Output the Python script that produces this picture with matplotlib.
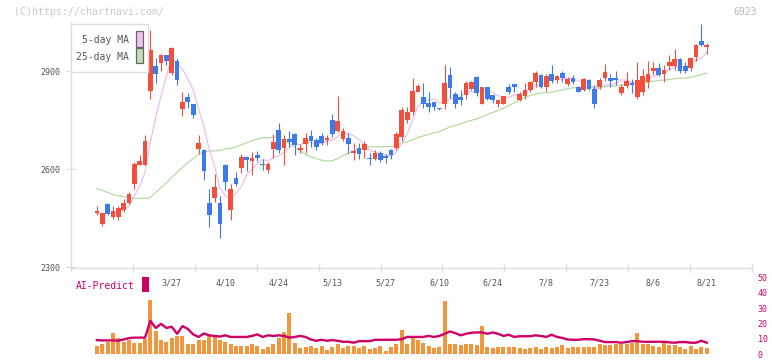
import numpy as np
import pandas as pd
import matplotlib
matplotlib.use("Agg")
from matplotlib import pyplot as plt
from matplotlib.patches import Rectangle

## Daily candles (yen), index 0 = first day on the chart
opens = [2452, 2466, 2433, 2493, 2454, 2454, 2476, 2496, 2554, 2613,
         2613, 2840, 2915, 2925, 2949, 2895, 2931, 2784, 2820, 2798,
         2661, 2658, 2496, 2512, 2496, 2612, 2476, 2572, 2604, 2637,
         2625, 2643, 2615, 2597, 2662, 2719, 2665, 2692, 2707, 2659,
         2677, 2701, 2689, 2701, 2689, 2750, 2717, 2692, 2696, 2648,
         2664, 2657, 2634, 2631, 2649, 2640, 2658, 2665, 2699, 2749,
         2774, 2837, 2819, 2802, 2804, 2786, 2799, 2888, 2829, 2820,
         2826, 2846, 2882, 2800, 2850, 2826, 2800, 2800, 2850, 2859,
         2812, 2824, 2843, 2867, 2888, 2852, 2891, 2873, 2894, 2859,
         2879, 2851, 2843, 2872, 2845, 2851, 2879, 2879, 2879, 2833,
         2854, 2863, 2821, 2837, 2866, 2900, 2909, 2891, 2915, 2915,
         2937, 2915, 2909, 2942, 2992, 2974]
highs = [2452, 2487, 2466, 2496, 2488, 2488, 2507, 2531, 2621, 2643,
         2704, 3025, 2939, 2952, 2950, 2975, 2939, 2837, 2834, 2800,
         2704, 2660, 2538, 2585, 2517, 2614, 2554, 2590, 2646, 2640,
         2652, 2656, 2631, 2621, 2707, 2741, 2704, 2716, 2710, 2677,
         2711, 2719, 2695, 2711, 2705, 2769, 2823, 2725, 2709, 2681,
         2681, 2687, 2649, 2658, 2654, 2646, 2660, 2712, 2791, 2789,
         2878, 2860, 2863, 2835, 2806, 2788, 2918, 2912, 2835, 2842,
         2868, 2869, 2885, 2852, 2852, 2828, 2814, 2824, 2860, 2861,
         2837, 2863, 2870, 2901, 2890, 2891, 2918, 2887, 2901, 2882,
         2888, 2853, 2879, 2874, 2858, 2879, 2921, 2892, 2900, 2860,
         2898, 2876, 2928, 2906, 2931, 2928, 2924, 2918, 2949, 2967,
         2939, 2928, 2943, 2983, 3044, 2986]
lows = [2452, 2459, 2426, 2459, 2447, 2444, 2469, 2493, 2540, 2613,
        2613, 2814, 2864, 2900, 2919, 2887, 2857, 2762, 2786, 2757,
        2645, 2566, 2423, 2500, 2390, 2536, 2444, 2548, 2587, 2594,
        2581, 2625, 2597, 2589, 2633, 2650, 2612, 2668, 2643, 2650,
        2650, 2668, 2658, 2673, 2673, 2699, 2712, 2686, 2650, 2628,
        2632, 2633, 2613, 2628, 2621, 2619, 2632, 2658, 2687, 2740,
        2765, 2835, 2788, 2774, 2780, 2781, 2783, 2818, 2788, 2796,
        2815, 2843, 2822, 2798, 2811, 2803, 2789, 2798, 2831, 2835,
        2809, 2815, 2835, 2851, 2847, 2839, 2862, 2862, 2865, 2855,
        2859, 2835, 2839, 2843, 2788, 2845, 2870, 2851, 2857, 2828,
        2847, 2833, 2815, 2828, 2848, 2888, 2886, 2866, 2903, 2903,
        2894, 2894, 2900, 2931, 2977, 2952]
closes = [2452, 2472, 2466, 2462, 2471, 2480, 2496, 2524, 2615, 2625,
          2687, 2964, 2892, 2949, 2932, 2969, 2872, 2805, 2805, 2765,
          2680, 2595, 2460, 2545, 2433, 2560, 2539, 2555, 2637, 2628,
          2634, 2635, 2611, 2615, 2683, 2658, 2692, 2684, 2673, 2665,
          2695, 2687, 2668, 2679, 2695, 2708, 2747, 2717, 2677, 2656,
          2647, 2677, 2632, 2649, 2627, 2635, 2644, 2707, 2781, 2774,
          2839, 2853, 2800, 2789, 2790, 2783, 2863, 2848, 2799, 2810,
          2863, 2865, 2832, 2850, 2813, 2811, 2812, 2822, 2836, 2852,
          2830, 2842, 2867, 2894, 2852, 2885, 2870, 2885, 2880, 2876,
          2867, 2837, 2876, 2845, 2800, 2872, 2897, 2870, 2872, 2852,
          2869, 2858, 2872, 2885, 2891, 2909, 2888, 2903, 2928, 2937,
          2900, 2900, 2940, 2980, 2980, 2980]

# moving averages: first values come from before the window
ma5_head = [np.nan, 2462, 2463, 2464]
ma25_head = [np.nan, 2541, 2534, 2529, 2522, 2518, 2515, 2512, 2510, 2510,
             2510, 2512, 2528, 2543, 2558, 2575, 2590, 2605, 2620, 2632,
             2645, 2651, 2655, 2656]

## Lower panel
volume = [np.nan, 5.2, 6.5, 8.1, 13.75, 10.6, 8.1, 9.2, 7.1, 7.5,
          10, 35.6, 15.4, 9.4, 8.1, 10.6, 11.9, 11.7, 6.5, 6.5,
          9.4, 9.4, 11.7, 11.25, 9.4, 8.1, 6.9, 5.2, 5.6, 5.6,
          6.9, 5.6, 3.1, 4.6, 6.9, 10.6, 14.4, 26.9, 7.5, 3.75,
          4.6, 5.6, 3.75, 5.2, 2.5, 4.6, 6.7, 3.75, 5.6, 5.6,
          3.75, 5.2, 3.1, 3.75, 5.6, 1.9, 4.6, 6.9, 15.6, 6.9,
          11.9, 9.2, 7.5, 5.6, 3.75, 4.6, 35, 6.9, 6.9, 6.25,
          6.9, 6.9, 6.25, 18.1, 4.4, 3.75, 4.4, 4.4, 5, 5,
          3.75, 3.1, 3.75, 5, 3.1, 5, 3.75, 4.4, 6.25, 3.75,
          4.4, 4.4, 4.4, 4.4, 4.4, 6.9, 6.25, 6.25, 6.9, 6.9,
          6.9, 7.5, 13.75, 6.9, 6.9, 5.6, 4.4, 8.75, 6.25, 6.25,
          4.4, 3.1, 5.6, 3.1, 5, 3.75]
ai_predict = [np.nan, 9.2, 9.0, 9.0, 9.0, 8.8, 9.6, 10.5, 10.8, 10.8,
              10.8, 21.7, 17.1, 19.8, 17.1, 17.9, 13.3, 18.3, 16.5, 12.9,
              11.25, 13.5, 12.3, 11.9, 11.5, 12.3, 11.25, 11.25, 11.25, 11.25,
              11.9, 12.9, 11.25, 12.3, 11.9, 12.3, 11.9, 10.8, 11.25, 11.9,
              11.25, 9.6, 8.75, 9.4, 8.75, 9.2, 8.75, 8.1, 8.1, 7.5,
              8.5, 8.5, 8.5, 9.4, 9.4, 9.4, 9.4, 9.4, 9.8, 11.25,
              11.25, 11.25, 11.25, 11.9, 11.25, 11.9, 13.3, 14.8, 13.75, 12.3,
              13.3, 14.0, 14.2, 14.2, 13.3, 14.2, 13.3, 11.9, 12.7, 11.25,
              11.7, 11.7, 11.7, 12.3, 11.9, 11.25, 12.7, 11.25, 10.6, 9.6,
              9.4, 9.4, 9.8, 9.8, 9.6, 8.75, 7.9, 7.9, 7.9, 7.5,
              7.9, 8.5, 8.5, 8.1, 8.1, 8.1, 8.1, 8.1, 7.7, 7.5,
              7.9, 7.9, 7.5, 7.5, 8.75, 7.5]

date_pos = [15, 25, 35, 45, 55, 65, 75, 85, 95, 105, 115]
date_labels = ['3/27', '4/10', '4/24', '5/13', '5/27', '6/10',
               '6/24', '7/8', '7/23', '8/6', '8/21']
price_ticks = [2300, 2600, 2900]
right_ticks = [0, 10, 20, 30, 40, 50]

UP = '#f24f3d'
DOWN = '#3c7bec'
CRIMSON = '#cc0066'
GRID = '#dddddd'
TXT = '#555555'
MONO = 'DejaVu Sans Mono'

W, H = 772, 361
fig = plt.figure(figsize=(W / 100, H / 100), dpi=100)
fig.patch.set_facecolor('white')

x = np.arange(len(closes))
o = np.array(opens, float)
c = np.array(closes, float)
cols = [UP if cc >= oo else DOWN for oo, cc in zip(o, c)]

ma5 = pd.Series(c).rolling(5).mean().to_numpy()
ma5[:len(ma5_head)] = ma5_head
ma25 = pd.Series(c).rolling(25).mean().to_numpy()
ma25[:len(ma25_head)] = ma25_head

x0, x1 = -3.89, 123.51

## Price panel
ax = fig.add_axes([70.7 / W, (H - 268) / H, (752.3 - 70.7) / W, (268 - 22) / H])
ax.set_xlim(x0, x1)
ax.set_ylim(2297, 3050)

ax.plot(x, ma25, color='#b4dca2', lw=0.9, zorder=2)
ax.plot(x, ma5, color='#ebb8eb', lw=0.8, zorder=2)
ax.vlines(x, lows, highs, colors=cols, lw=0.8, zorder=3)
body = np.maximum(np.abs(c - o), 2.5)
ax.bar(x, body, bottom=np.minimum(o, c), width=0.88, color=cols,
       linewidth=0, zorder=4)

for s in ['top', 'right']:
    ax.spines[s].set_visible(False)
for s in ['left', 'bottom']:
    ax.spines[s].set_color(GRID)
    ax.spines[s].set_linewidth(1)

ax.set_yticks(price_ticks)
ax.set_yticklabels([str(v) for v in price_ticks], fontsize=6, color=TXT,
                   family=MONO)
ax.tick_params(axis='y', direction='inout', length=6.5, color=GRID, pad=4)
ax.set_xticks(date_pos)
ax.set_xticklabels(date_labels, fontsize=6, color=TXT, family=MONO)
ax.tick_params(axis='x', which='major', length=0, pad=7.5)
ax.set_xticks(np.linspace(x0, x1, 12), minor=True)
ax.tick_params(axis='x', which='minor', direction='inout', length=6,
               color=GRID, width=1)

## AI-Predict panel (transparent so the date labels above stay visible)
ax2 = fig.add_axes([70.7 / W, 4.5 / H, (752.3 - 70.7) / W, 79 / H])
ax2.patch.set_alpha(0)
ax2.set_xlim(x0, x1)
ax2.set_ylim(0, 50)
ax2.bar(x, volume, width=0.75, color='#f0963c', linewidth=0, zorder=2)
ax2.plot(x, ai_predict, color=CRIMSON, lw=1.7, zorder=3)
for s in ax2.spines.values():
    s.set_visible(False)
ax2.set_xticks([])
ax2.yaxis.tick_right()
ax2.set_yticks(right_ticks)
ax2.set_yticklabels([str(v) for v in right_ticks], fontsize=6, color=CRIMSON,
                    family=MONO)
ax2.tick_params(axis='y', length=0, pad=4)
ax2.set_ylim(-1.5, 50)

## Legend box
fig.patches.append(Rectangle((70.7 / W, 1 - 72 / H), (148 - 70.7) / W, 48 / H,
                             transform=fig.transFigure, facecolor='white',
                             edgecolor=GRID, lw=1))
fig.text(128.5 / W, 1 - 40 / H, '5-day MA', ha='right', va='center',
         fontsize=7, color=TXT, family=MONO)
fig.text(128.5 / W, 1 - 56.5 / H, '25-day MA', ha='right', va='center',
         fontsize=7, color=TXT, family=MONO)
fig.patches.append(Rectangle((136 / W, 1 - 46.5 / H), 6.7 / W, 15.5 / H,
                             transform=fig.transFigure, facecolor='#f0c0f0',
                             edgecolor='#666666', lw=0.9))
fig.patches.append(Rectangle((136 / W, 1 - 63.3 / H), 6.7 / W, 15 / H,
                             transform=fig.transFigure, facecolor='#c3e2b2',
                             edgecolor='#666666', lw=0.9))

## AI-Predict label
fig.text(75.7 / W, 1 - 286 / H, 'AI-Predict', ha='left', va='center',
         fontsize=7, color=CRIMSON, family=MONO)
fig.patches.append(Rectangle((142 / W, 1 - 292.3 / H), 7 / W, 15.6 / H,
                             transform=fig.transFigure, facecolor=CRIMSON,
                             edgecolor='none'))

## Header texts
fig.text(14 / W, 1 - 12 / H, '(C)https://chartnavi.com/', ha='left',
         va='center', fontsize=7.1, color='#c8c8c8', family=MONO)
fig.text(757 / W, 1 - 12 / H, '6923', ha='right', va='center',
         fontsize=7, color='#bbbbbb', family=MONO)

fig.savefig('out.png', dpi=100)
